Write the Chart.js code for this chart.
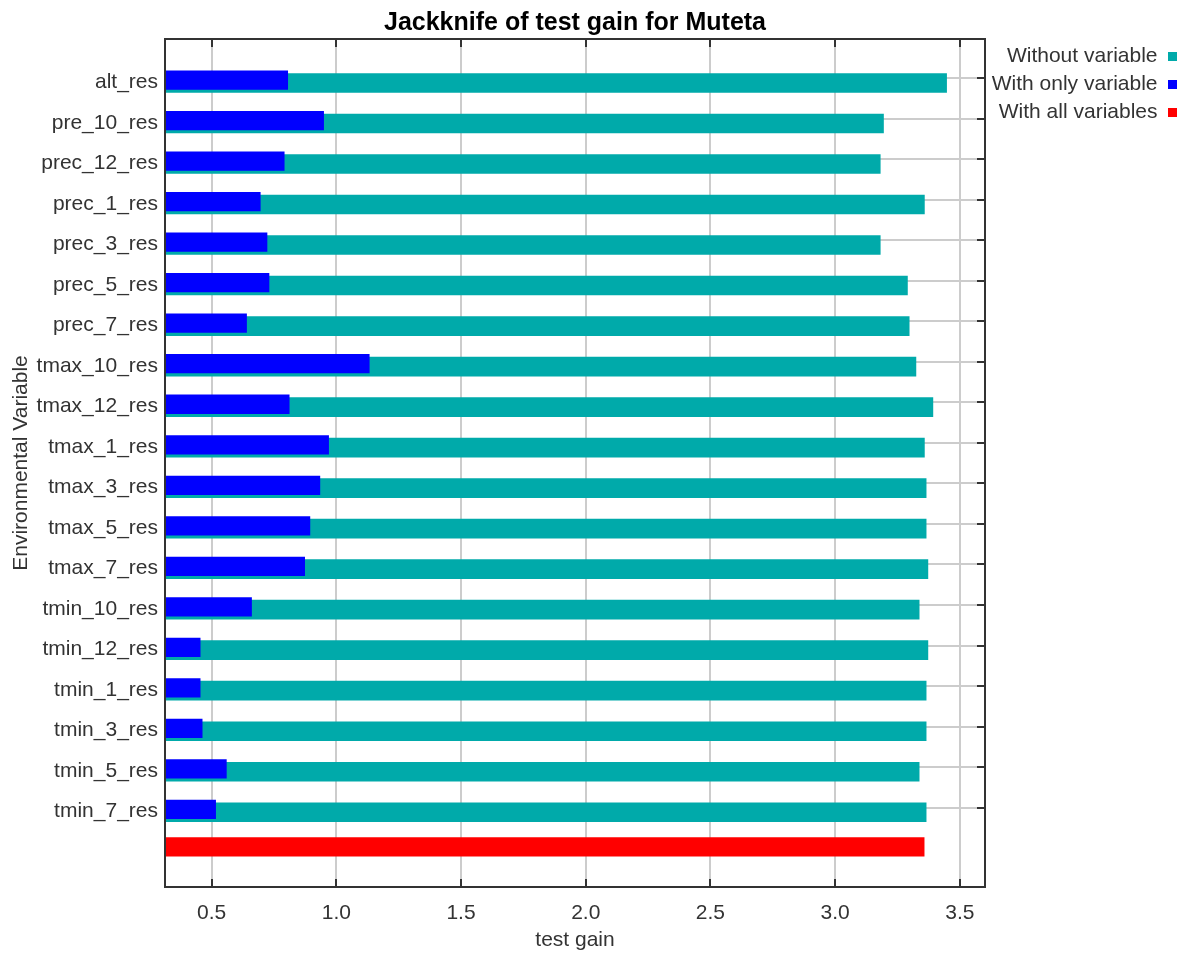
<!DOCTYPE html>
<html>
<head>
<meta charset="utf-8">
<title>Jackknife of test gain for Muteta</title>
<script src="https://cdn.jsdelivr.net/npm/chart.js@4/dist/chart.umd.min.js"></script>
<style>
  html, body { margin: 0; padding: 0; background: #ffffff; }
  #wrap { position: relative; width: 1193px; height: 954px; }
</style>
</head>
<body>
<div id="wrap"><canvas id="chart"></canvas></div>
<script>
// Environmental variables, top to bottom
const varNames = [
  'alt_res', 'pre_10_res', 'prec_12_res', 'prec_1_res', 'prec_3_res',
  'prec_5_res', 'prec_7_res', 'tmax_10_res', 'tmax_12_res', 'tmax_1_res',
  'tmax_3_res', 'tmax_5_res', 'tmax_7_res', 'tmin_10_res', 'tmin_12_res',
  'tmin_1_res', 'tmin_3_res', 'tmin_5_res', 'tmin_7_res'
];

// Test gain of the model built without each variable
const withoutGain = [
  3.447, 3.194, 3.181, 3.358, 3.181,
  3.290, 3.297, 3.324, 3.392, 3.358,
  3.365, 3.365, 3.372, 3.337, 3.372,
  3.365, 3.365, 3.337, 3.365
];

// Test gain of the model built with only each variable
const onlyGain = [
  0.805, 0.949, 0.791, 0.695, 0.722,
  0.730, 0.640, 1.132, 0.811, 0.969,
  0.934, 0.894, 0.873, 0.660, 0.454,
  0.454, 0.462, 0.559, 0.516
];

// Test gain of the full model
const allGain = 3.357;

// Gain axis tick labels
const gainTicks = [0.5, 1.0, 1.5, 2.0, 2.5, 3.0, 3.5];

const seriesLabels = ['Without variable', 'With only variable', 'With all variables'];

// Row layout: each variable sits on an integer row; bars sit slightly below the row line
const withoutShift = 0.115;
const onlyShift = 0.045;
const allRow = varNames.length - 0.03;

Chart.defaults.font.family = "'Liberation Sans', Arial, sans-serif";
Chart.defaults.font.size = 21;
Chart.defaults.color = '#333333';

const gainMin = 0.313, gainMax = 3.601;

// Frame box with inward tick marks on the top, bottom and right edges
const frameAndTicks = {
  id: 'frameAndTicks',
  afterInit(chart) {
    const legend = chart.legend;
    if (legend && !legend._fixedWidth) {
      const baseFit = legend.fit;
      legend.fit = function () {
        baseFit.call(this);
        this.width = 199;
      };
      legend._fixedWidth = true;
    }
  },
  afterDatasetsDraw(chart) {
    const { ctx, chartArea: a, scales } = chart;
    const x = scales.x, y = scales.y;
    const len = 8;
    ctx.save();
    ctx.strokeStyle = '#333333';
    ctx.lineWidth = 2;
    ctx.beginPath();
    x.ticks.forEach(t => {
      const px = Math.round(x.getPixelForValue(t.value));
      ctx.moveTo(px, a.bottom); ctx.lineTo(px, a.bottom - len);
      ctx.moveTo(px, a.top); ctx.lineTo(px, a.top + len);
    });
    y.ticks.forEach(t => {
      const py = Math.round(y.getPixelForValue(t.value));
      ctx.moveTo(a.right, py); ctx.lineTo(a.right - len, py);
    });
    ctx.stroke();
    ctx.strokeRect(a.left, a.top, a.right - a.left, a.bottom - a.top);
    ctx.restore();
  }
};

const gridStyle = {
  color: '#cccccc',
  lineWidth: 2,
  drawTicks: false,
  offset: false
};

new Chart(document.getElementById('chart'), {
  type: 'bar',
  data: {
    datasets: [
      {
        label: seriesLabels[0],
        data: withoutGain.map((v, i) => ({ x: v, y: i + withoutShift })),
        backgroundColor: '#00aaaa',
        borderWidth: 0,
        barThickness: 19,
        order: 2
      },
      {
        label: seriesLabels[1],
        data: onlyGain.map((v, i) => ({ x: v, y: i + onlyShift })),
        backgroundColor: '#0000ff',
        borderWidth: 0,
        barThickness: 18.6,
        order: 1
      },
      {
        label: seriesLabels[2],
        data: [{ x: allGain, y: allRow }],
        backgroundColor: '#ff0000',
        borderWidth: 0,
        barThickness: 18.4,
        order: 3
      }
    ]
  },
  options: {
    indexAxis: 'y',
    responsive: true,
    maintainAspectRatio: false,
    animation: false,
    devicePixelRatio: 1,
    grouped: false,
    layout: { padding: { top: 0, right: 9, bottom: 0, left: 0 } },
    scales: {
      x: {
        type: 'linear',
        position: 'bottom',
        offset: false,
        min: gainMin,
        max: gainMax,
        grid: gridStyle,
        border: { display: false },
        afterBuildTicks: s => { s.ticks = gainTicks.map(v => ({ value: v })); },
        afterFit: s => { s.height = 67; },
        ticks: {
          padding: 14,
          maxRotation: 0,
          autoSkip: false,
          color: '#333333',
          callback: v => Number(v).toFixed(1)
        },
        title: {
          display: true,
          text: 'test gain',
          color: '#333333',
          font: { size: 21 },
          padding: { top: 0, bottom: 1 }
        }
      },
      x2: {
        type: 'linear',
        position: 'top',
        offset: false,
        min: gainMin,
        max: gainMax,
        grid: { display: false, drawTicks: false },
        border: { display: false },
        ticks: { display: false },
        afterFit: s => { s.height = 39; },
        title: {
          display: true,
          text: 'Jackknife of test gain for Muteta',
          color: '#000000',
          font: { size: 25, weight: 'bold' },
          padding: { top: 8, bottom: 0 }
        }
      },
      y: {
        type: 'linear',
        position: 'left',
        reverse: true,
        offset: false,
        min: -0.97,
        max: 19.96,
        grid: gridStyle,
        border: { display: false },
        afterBuildTicks: s => { s.ticks = varNames.map((_, i) => ({ value: i })); },
        afterFit: s => { s.width = 165; },
        ticks: {
          padding: 7,
          labelOffset: 4,
          autoSkip: false,
          color: '#333333',
          callback: v => varNames[v] ?? ''
        },
        title: {
          display: true,
          text: 'Environmental Variable',
          color: '#333333',
          font: { size: 21 },
          padding: { top: 9, bottom: 0 }
        }
      }
    },
    plugins: {
      legend: {
        position: 'right',
        align: 'start',
        fullSize: false,
        rtl: true,
        labels: {
          boxWidth: 9,
          boxHeight: 9,
          padding: 7,
          color: '#333333',
          font: { size: 21, lineHeight: 1.1 },
          sort: (a, b) => a.datasetIndex - b.datasetIndex
        }
      },
      title: { display: false },
      tooltip: { enabled: false }
    }
  },
  plugins: [frameAndTicks]
});
</script>
</body>
</html>
